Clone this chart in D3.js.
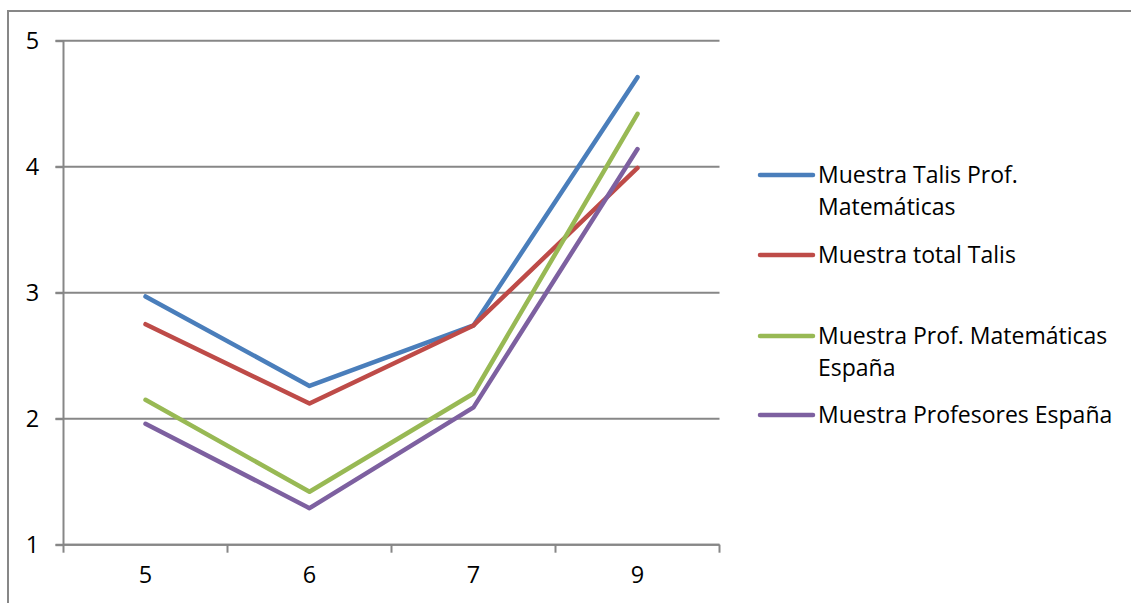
<!DOCTYPE html>
<html>
<head>
<meta charset="utf-8">
<script src="https://cdn.jsdelivr.net/npm/d3@7"></script>
<style>
  html, body { margin: 0; padding: 0; background: #fff; }
  svg { display: block; }
  text { font-family: "Open Sans", "DejaVu Sans", sans-serif; fill: #000; }
</style>
</head>
<body>
<svg id="chart" width="1131" height="603"></svg>
<script>
const categories = ["5", "6", "7", "9"];
const yTicks = [1, 2, 3, 4, 5];
const seriesNames = [
  ["Muestra Talis Prof.", "Matemáticas"],
  ["Muestra total Talis"],
  ["Muestra Prof. Matemáticas", "España"],
  ["Muestra Profesores España"]
];
const talisMat = [2.97, 2.26, 2.74, 4.71];
const talisTotal = [2.75, 2.12, 2.74, 3.99];
const espanaMat = [2.15, 1.42, 2.20, 4.42];
const espanaProf = [1.96, 1.29, 2.09, 4.14];
const colors = ["#4A7EBB", "#BE4B48", "#98B954", "#7D60A0"];

const series = [talisMat, talisTotal, espanaMat, espanaProf];

const svg = d3.select("#chart");

// outer frame
svg.append("rect")
  .attr("x", 8).attr("y", 11)
  .attr("width", 1300).attr("height", 800)
  .attr("fill", "none").attr("stroke", "#878787").attr("stroke-width", 2);

const plotL = 63.5, plotR = 719.5, plotT = 40.7, plotB = 544.7;

const x = d3.scaleBand().domain(categories).range([plotL, plotR]).paddingInner(0).paddingOuter(0);
const y = d3.scaleLinear().domain([1, 5]).range([plotB, plotT]);

// gridlines
svg.append("g").selectAll("line").data(yTicks).join("line")
  .attr("x1", plotL - 8).attr("x2", plotR)
  .attr("y1", d => y(d)).attr("y2", d => y(d))
  .attr("stroke", "#878787").attr("stroke-width", 2);

// y axis
const yAxis = svg.append("g").attr("transform", `translate(${plotL},0)`)
  .call(d3.axisLeft(y).tickValues(yTicks).tickFormat(d3.format("d")).tickSize(8).tickPadding(18));
yAxis.select(".domain").attr("stroke", "#878787").attr("stroke-width", 2).attr("d", `M0,${plotT}V${plotB}`);
yAxis.selectAll(".tick line").attr("stroke", "#878787").attr("stroke-width", 2);
yAxis.selectAll(".tick text").attr("font-size", 23.5).attr("font-family", "Open Sans").attr("fill", "#000").attr("text-anchor", "middle").attr("x", -31);

// x axis
const xAxis = svg.append("g").attr("transform", `translate(0,${plotB})`)
  .call(d3.axisBottom(x).tickSize(0).tickPadding(22));
xAxis.select(".domain").attr("stroke", "#878787").attr("stroke-width", 2).attr("d", `M${plotL},0H${plotR}`);
xAxis.selectAll(".tick text").attr("font-size", 23.5).attr("font-family", "Open Sans").attr("fill", "#000");
const bounds = categories.map(c => x(c)).concat([x.range()[1]]);
xAxis.selectAll(".bound").data(bounds).join("line").attr("class", "bound")
  .attr("x1", d => d).attr("x2", d => d).attr("y1", 0).attr("y2", 8)
  .attr("stroke", "#878787").attr("stroke-width", 2);

// lines
const line = d3.line()
  .x((d, i) => x(categories[i]) + x.bandwidth() / 2)
  .y(d => y(d));

svg.append("g").selectAll("path").data(series).join("path")
  .attr("d", d => line(d))
  .attr("fill", "none")
  .attr("stroke", (d, i) => colors[i])
  .attr("stroke-width", 4.5)
  .attr("stroke-linecap", "round")
  .attr("stroke-linejoin", "round");

// legend
const legendY = [175, 255, 336, 415];
const lg = svg.append("g");
seriesNames.forEach((lines, i) => {
  lg.append("line")
    .attr("x1", 760).attr("x2", 813)
    .attr("y1", legendY[i]).attr("y2", legendY[i])
    .attr("stroke", colors[i]).attr("stroke-width", 4.5).attr("stroke-linecap", "round");
  const t = lg.append("text")
    .attr("x", 818).attr("y", legendY[i])
    .attr("font-size", 23);
  lines.forEach((s, j) => {
    t.append("tspan").attr("x", 818).attr("dy", j === 0 ? "0.35em" : 32).text(s);
  });
});
</script>
</body>
</html>
